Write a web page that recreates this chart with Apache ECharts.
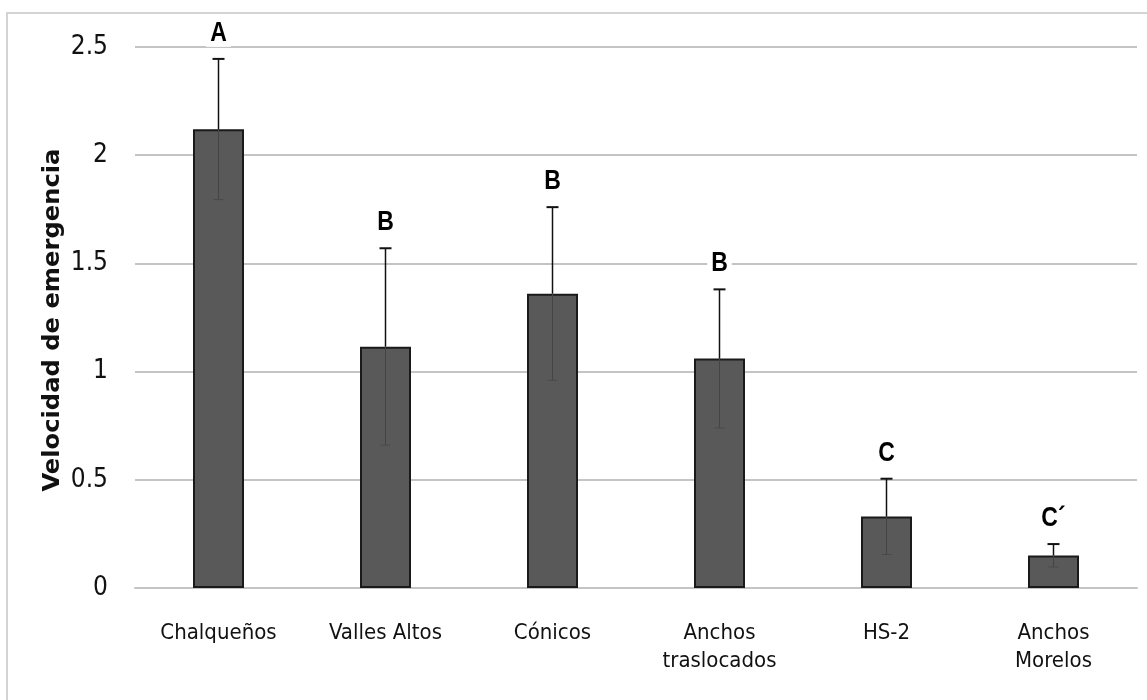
<!DOCTYPE html>
<html>
<head>
<meta charset="utf-8">
<script src="https://cdn.jsdelivr.net/npm/echarts@6/dist/echarts.min.js"></script>
<style>
  html, body { margin: 0; padding: 0; background: #ffffff; }
  #chart { width: 1147px; height: 700px; }
</style>
</head>
<body>
<div id="chart"></div>
<script>
// Emergence speed per maize race: mean, standard error and significance group
const categories = ['Chalqueños', 'Valles Altos', 'Cónicos', 'Anchos\ntraslocados', 'HS-2', 'Anchos\nMorelos'];
const means = [2.12, 1.115, 1.36, 1.06, 0.33, 0.15];
const errors = [0.325, 0.455, 0.40, 0.32, 0.175, 0.053];
const groupLetters = ['A', 'B', 'B', 'B', 'C', 'C´'];
const yAxisTitle = 'Velocidad de emergencia';

const LABEL_FONT = "'Liberation Sans Narrow', 'DejaVu Sans Condensed', 'Liberation Sans', sans-serif";
const LETTER_FONT = "'Liberation Sans', Arial, sans-serif";

const chart = echarts.init(document.getElementById('chart'), null, { renderer: 'canvas' });

const errorData = means.map((m, i) => [i, m, errors[i]]);

function renderError(params, api) {
  const idx = api.value(0);
  const mean = api.value(1);
  const err = api.value(2);
  const top = api.coord([idx, mean + err]);
  const mid = api.coord([idx, mean]);
  const bot = api.coord([idx, mean - err]);
  const x = top[0];
  const capHalf = 6;
  return {
    type: 'group',
    children: [
      // lower half, drawn faintly over the bar
      { type: 'line', shape: { x1: x, y1: mid[1], x2: x, y2: bot[1] },
        style: { stroke: '#444444', lineWidth: 1 } },
      { type: 'line', shape: { x1: x - capHalf + 1, y1: bot[1], x2: x + capHalf - 1, y2: bot[1] },
        style: { stroke: '#4a4a4a', lineWidth: 1 } },
      // upper half with cap
      { type: 'line', shape: { x1: x, y1: mid[1], x2: x, y2: top[1] },
        style: { stroke: '#111111', lineWidth: 1.5 } },
      { type: 'line', shape: { x1: x - capHalf, y1: top[1], x2: x + capHalf, y2: top[1] },
        style: { stroke: '#111111', lineWidth: 2 } },
      // significance letter, slightly stretched vertically
      { type: 'text',
        x: x, y: top[1] - 12,
        scaleY: 1.18,
        style: {
          text: groupLetters[params.dataIndex],
          x: 0, y: 0,
          align: 'center', verticalAlign: 'bottom',
          fontFamily: LETTER_FONT, fontWeight: 'bold', fontSize: 23,
          fill: '#000000',
          backgroundColor: '#ffffff',
          padding: [0, 4, 0, 4]
        } }
    ]
  };
}

const option = {
  backgroundColor: '#ffffff',
  animation: false,
  grid: { left: 135, right: 10, top: 47, bottom: 112, containLabel: false },
  xAxis: {
    type: 'category',
    data: categories,
    axisTick: { show: false },
    axisLine: { show: true, lineStyle: { color: '#c4c4c4', width: 2 } },
    axisLabel: {
      color: '#111111', fontFamily: LABEL_FONT, fontSize: 22,
      lineHeight: 28, margin: 31, interval: 0
    },
    splitLine: { show: false }
  },
  yAxis: {
    type: 'value',
    min: 0, max: 2.5, interval: 0.5,
    axisLine: { show: false },
    axisTick: { show: false },
    axisLabel: {
      color: '#111111', fontFamily: LABEL_FONT, fontSize: 26, margin: 27,
      formatter: v => String(v)
    },
    splitLine: { show: true, lineStyle: { color: '#c4c4c4', width: 2 } }
  },
  series: [
    {
      type: 'bar',
      data: means,
      barWidth: 51,
      itemStyle: { color: '#595959', borderColor: '#1a1a1a', borderWidth: 2 },
      z: 2
    },
    {
      type: 'custom',
      data: errorData,
      renderItem: renderError,
      z: 5
    }
  ],
  graphic: [
    {
      type: 'rect',
      shape: { x: 7, y: 13, width: 1160, height: 720 },
      style: { fill: 'none', stroke: '#d4d4d4', lineWidth: 2 },
      silent: true
    },
    {
      type: 'text',
      x: 53, y: 320,
      rotation: Math.PI / 2,
      scaleX: 1.17,
      style: {
        text: yAxisTitle,
        fontFamily: LABEL_FONT, fontWeight: 'bold', fontSize: 23,
        fill: '#111111', align: 'center', verticalAlign: 'middle'
      }
    }
  ]
};

chart.setOption(option);
</script>
</body>
</html>
